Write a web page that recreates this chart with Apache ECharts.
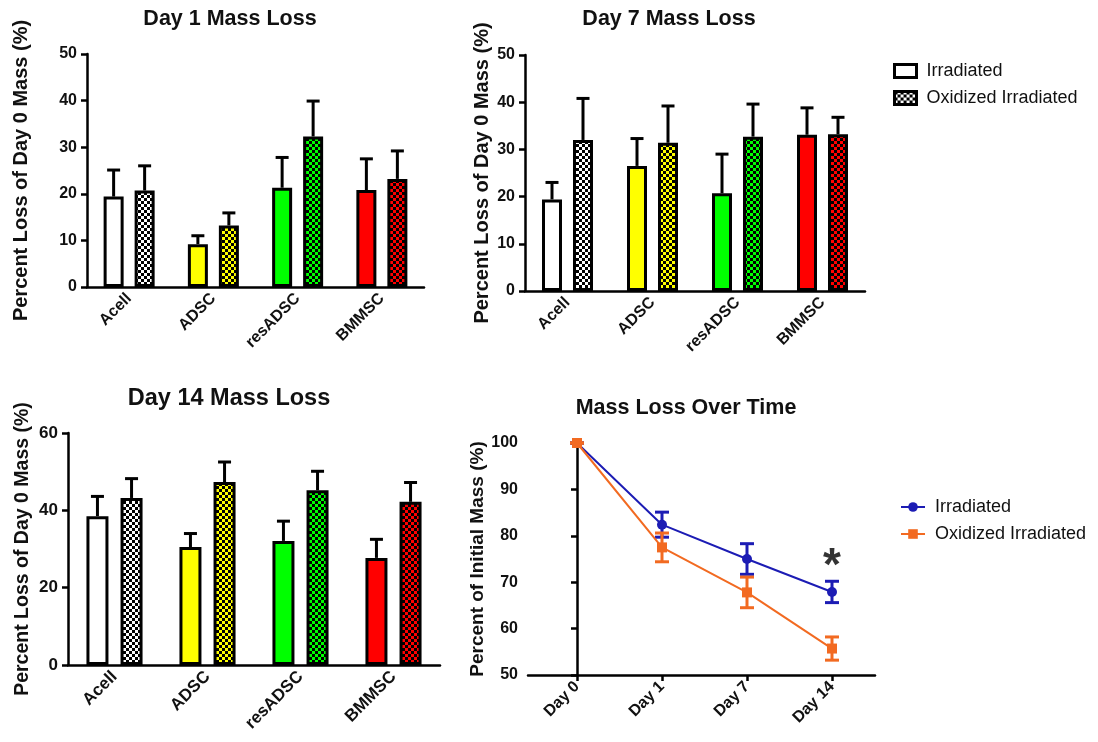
<!DOCTYPE html>
<html><head><meta charset="utf-8">
<script src="https://cdn.jsdelivr.net/npm/echarts@6/dist/echarts.min.js"></script>
<style>html,body{margin:0;padding:0;background:#fff;} #c{width:1098px;height:742px;}</style>
</head><body><div id="c"></div>
<script>
// ---------- data ----------
const categories = ['Acell', 'ADSC', 'resADSC', 'BMMSC'];
const groupColors = ['#ffffff', '#ffff00', '#00ff00', '#ff0000'];
const seriesNames = ['Irradiated', 'Oxidized Irradiated'];
// mean values and top of the error bar (mean + SD)
const day1Irr = [19.4, 9.2, 21.3, 20.8];
const day1IrrTop = [25.1, 11.0, 27.8, 27.5];
const day1Ox = [20.7, 13.2, 32.3, 23.2];
const day1OxTop = [26.0, 15.9, 39.9, 29.2];
const day7Irr = [19.4, 26.5, 20.7, 33.1];
const day7IrrTop = [23.0, 32.3, 29.0, 38.8];
const day7Ox = [32.0, 31.4, 32.7, 33.2];
const day7OxTop = [40.8, 39.2, 39.6, 36.8];
const day14Irr = [38.5, 30.5, 32.1, 27.7];
const day14IrrTop = [43.6, 34.0, 37.2, 32.5];
const day14Ox = [43.2, 47.3, 45.2, 42.2];
const day14OxTop = [48.2, 52.5, 50.1, 47.2];
// time course
const timeLabels = ['Day 0', 'Day 1', 'Day 7', 'Day 14'];
const lineIrr = [100, 82.4, 75.0, 67.9];
const lineIrrErr = [0, 2.7, 3.3, 2.3];
const lineOx = [100, 77.5, 67.8, 55.7];
const lineOxErr = [0, 3.1, 3.3, 2.5];
const starPoint = [3, 73.3];

// ---------- styling ----------
const FONT = "'Liberation Sans', Arial, sans-serif";
const BLUE = '#1c1cb4';
const ORANGE = '#f26a21';

function checker(color) {
  const s = 3;
  const c = document.createElement('canvas');
  c.width = 2 * s; c.height = 2 * s;
  const g = c.getContext('2d');
  g.fillStyle = color; g.fillRect(0, 0, 2 * s, 2 * s);
  g.fillStyle = '#000'; g.fillRect(0, 0, s, s); g.fillRect(s, s, s, s);
  return { image: c, repeat: 'repeat' };
}

const panels = [
  { title: 'Day 1 Mass Loss', irr: day1Irr, irrTop: day1IrrTop, ox: day1Ox, oxTop: day1OxTop, max: 50, interval: 10,
    grid: { left: 87, top: 54, width: 337, height: 233 }, barW: 20, gap: 0.55, nameGap: 56, fs: 16, nameFs: 20,
    tx: 230, ty: 19, tfs: 21.5 },
  { title: 'Day 7 Mass Loss', irr: day7Irr, irrTop: day7IrrTop, ox: day7Ox, oxTop: day7OxTop, max: 50, interval: 10,
    grid: { left: 525, top: 55, width: 340, height: 236 }, barW: 20, gap: 0.55, nameGap: 33, fs: 16, nameFs: 20,
    tx: 669, ty: 19, tfs: 21.5 },
  { title: 'Day 14 Mass Loss', irr: day14Irr, irrTop: day14IrrTop, ox: day14Ox, oxTop: day14OxTop, max: 60, interval: 20,
    grid: { left: 68, top: 433, width: 372, height: 232 }, barW: 22, gap: 0.55, nameGap: 35, fs: 17, nameFs: 19.5,
    tx: 229, ty: 399, tfs: 23.5 }
];

const grids = [], xAxes = [], yAxes = [], series = [], graphics = [];

function yAxisCfg(gi, min, max, interval, name, nameGap, fs, nameFs) {
  return {
    type: 'value', gridIndex: gi, min: min, max: max, interval: interval,
    name: name, nameLocation: 'middle', nameGap: nameGap,
    nameTextStyle: { fontFamily: FONT, fontWeight: 'bold', fontSize: nameFs, color: '#111' },
    axisLine: { show: true, lineStyle: { color: '#000', width: 2.5 } },
    axisTick: { show: true, length: 6, lineStyle: { color: '#000', width: 2.5 } },
    axisLabel: { fontFamily: FONT, fontWeight: 'bold', fontSize: fs, color: '#111', margin: 10 },
    splitLine: { show: false }
  };
}

panels.forEach((p, gi) => {
  grids.push(Object.assign({ containLabel: false }, p.grid));
  xAxes.push({
    type: 'category', gridIndex: gi, data: categories,
    axisLine: { lineStyle: { color: '#000', width: 2.5 } },
    axisTick: { alignWithLabel: true, length: 6, lineStyle: { color: '#000', width: 2.5 } },
    axisLabel: { rotate: 45, interval: 0, fontFamily: FONT, fontWeight: 'bold', fontSize: p.fs, color: '#111', margin: 9 }
  });
  yAxes.push(yAxisCfg(gi, 0, p.max, p.interval, 'Percent Loss of Day 0 Mass (%)', p.nameGap, p.fs, p.nameFs));
  [0, 1].forEach(which => {
    const vals = which === 0 ? p.irr : p.ox;
    const tops = which === 0 ? p.irrTop : p.oxTop;
    series.push({
      type: 'bar', name: seriesNames[which], xAxisIndex: gi, yAxisIndex: gi,
      barWidth: p.barW, barGap: (p.gap * 100) + '%',
      itemStyle: { color: which === 0 ? '#ffffff' : checker('#ffffff'), borderColor: '#000', borderWidth: 3 },
      data: vals.map((v, i) => ({ value: v, itemStyle: { color: which === 0 ? groupColors[i] : checker(groupColors[i]) } })),
      emphasis: { disabled: true }, silent: true, z: 2
    });
    const off = (which === 0 ? -1 : 1) * p.barW * (1 + p.gap) / 2;
    series.push({
      type: 'custom', name: 'err_' + gi + '_' + which, xAxisIndex: gi, yAxisIndex: gi, z: 3, silent: true,
      data: vals.map((m, i) => [i, m, tops[i]]),
      renderItem: (params, api) => {
        const base = api.coord([api.value(0), api.value(1)]);
        const top = api.coord([api.value(0), api.value(2)]);
        const x = base[0] + off;
        return { type: 'group', children: [
          { type: 'line', shape: { x1: x, y1: base[1], x2: x, y2: top[1] }, style: { stroke: '#000', lineWidth: 3 } },
          { type: 'line', shape: { x1: x - 6.5, y1: top[1], x2: x + 6.5, y2: top[1] }, style: { stroke: '#000', lineWidth: 3 } }
        ] };
      }
    });
  });
  graphics.push({ type: 'text', x: p.tx, y: p.ty, style: { text: p.title, textAlign: 'center', textVerticalAlign: 'middle',
    font: 'bold ' + p.tfs + 'px ' + FONT, fill: '#111' } });
});

// ---------- line panel ----------
const LG = 3;
grids.push({ left: 528, top: 443, width: 347, height: 232 });
xAxes.push({
  type: 'value', gridIndex: LG, min: -0.5765, max: 3.506,
  axisLine: { lineStyle: { color: '#000', width: 2.5 } },
  axisTick: { show: true, customValues: [0, 1, 2, 3], length: 6, lineStyle: { color: '#000', width: 2.5 } },
  axisLabel: { customValues: [0, 1, 2, 3], rotate: 45, fontFamily: FONT, fontWeight: 'bold', fontSize: 16, color: '#111', margin: 9,
    formatter: v => timeLabels[Math.round(v)] },
  splitLine: { show: false }
});
yAxes.push(yAxisCfg(LG, 50, 100, 10, 'Percent of Initial Mass (%)', 34, 16, 19));

function lineErr(vals, errs, color, name) {
  return {
    type: 'custom', name: name, xAxisIndex: LG, yAxisIndex: LG, z: 4, silent: true,
    data: vals.map((v, i) => [i, v - errs[i], v + errs[i]]),
    renderItem: (params, api) => {
      const lo = api.coord([api.value(0), api.value(1)]);
      const hi = api.coord([api.value(0), api.value(2)]);
      const x = lo[0];
      const st = { stroke: color, lineWidth: 3 };
      return { type: 'group', children: [
        { type: 'line', shape: { x1: x, y1: lo[1], x2: x, y2: hi[1] }, style: st },
        { type: 'line', shape: { x1: x - 7, y1: lo[1], x2: x + 7, y2: lo[1] }, style: st },
        { type: 'line', shape: { x1: x - 7, y1: hi[1], x2: x + 7, y2: hi[1] }, style: st }
      ] };
    }
  };
}
series.push(lineErr(lineIrr, lineIrrErr, BLUE, 'errLineIrr'));
series.push({
  type: 'line', name: 'lineIrr', xAxisIndex: LG, yAxisIndex: LG, z: 5,
  data: lineIrr.map((v, i) => [i, v]), symbol: 'circle', symbolSize: 10, showAllSymbol: true,
  lineStyle: { color: BLUE, width: 2 }, itemStyle: { color: BLUE }, emphasis: { disabled: true }, silent: true
});
series.push(lineErr(lineOx, lineOxErr, ORANGE, 'errLineOx'));
series.push({
  type: 'line', name: 'lineOx', xAxisIndex: LG, yAxisIndex: LG, z: 6,
  data: lineOx.map((v, i) => [i, v]), symbol: 'rect', symbolSize: 10, showAllSymbol: true,
  lineStyle: { color: ORANGE, width: 2 }, itemStyle: { color: ORANGE }, emphasis: { disabled: true }, silent: true
});
series.push({
  type: 'scatter', name: 'star', xAxisIndex: LG, yAxisIndex: LG, z: 7, silent: true,
  data: [starPoint], symbolSize: 0,
  label: { show: true, position: 'inside', formatter: '*', fontFamily: FONT, fontWeight: 'bold', fontSize: 46, color: '#000' }
});
graphics.push({ type: 'text', x: 686, y: 408, style: { text: 'Mass Loss Over Time', textAlign: 'center', textVerticalAlign: 'middle',
  font: 'bold 21.5px ' + FONT, fill: '#111' } });

const lineLegendText = { lineIrr: 'Irradiated', lineOx: 'Oxidized Irradiated' };

const chart = echarts.init(document.getElementById('c'), null, { renderer: 'canvas' });
chart.setOption({
  animation: false,
  backgroundColor: '#fff',
  grid: grids, xAxis: xAxes, yAxis: yAxes, series: series,
  graphic: graphics,
  legend: [
    { data: seriesNames, orient: 'vertical', left: 888, top: 57, itemWidth: 22, itemHeight: 13, itemGap: 9, icon: 'rect',
      itemStyle: { borderColor: '#000', borderWidth: 3 },
      selectedMode: false, textStyle: { fontFamily: FONT, fontSize: 18, color: '#111', padding: [0, 0, 0, 5] } },
    { data: ['lineIrr', 'lineOx'], orient: 'vertical', left: 895, top: 493, itemWidth: 24, itemHeight: 12, itemGap: 9,
      selectedMode: false, formatter: n => lineLegendText[n],
      textStyle: { fontFamily: FONT, fontSize: 18, color: '#111', padding: [0, 0, 0, 5] } }
  ]
});
</script>
</body></html>
